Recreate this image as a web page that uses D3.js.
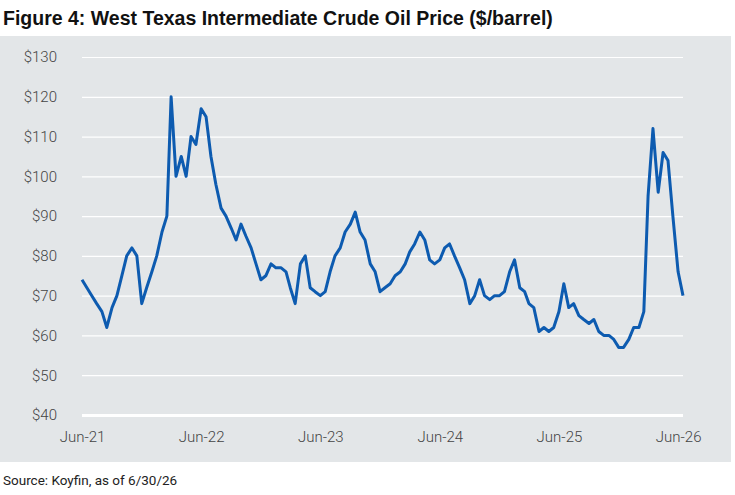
<!DOCTYPE html>
<html><head><meta charset="utf-8">
<script src="https://cdn.jsdelivr.net/npm/d3@7"></script>
<style>body{margin:0;background:#fff}</style>
</head><body><svg id="chart" width="735" height="495"></svg>
<script>
// semi-monthly closes, Jun-21 .. Jun-26
let v2021 = [74,72,70,68,66,62,67,70,75,80,82,80,68,72]
let v2022 = [76,80,86,90,120,100,105,100,110,108,117,115,105,98,92,90,87,84,88,85,82,78,74,75]
let v2023 = [78,77,77,76,72,68,78,80,72,71,70,71,76,80,82,86,88,91,86,84,78,76,71,72]
let v2024 = [73,75,76,78,81,83,86,84,79,78,79,82,83,80,77,74,68,70,74,70,69,70,70,71]
let v2025 = [76,79,72,71,68,67,61,62,61,62,66,73,67,68,65,64,63,64,61,60,60,59,57,57]
let v2026 = [59,62,62,66,95,112,96,106,104,90,76,70]
let yTicks = [40,50,60,70,80,90,100,110,120,130]
let xTickLabels = ["Jun-21","Jun-22","Jun-23","Jun-24","Jun-25","Jun-26"]

let values = [].concat(v2021, v2022, v2023, v2024, v2025, v2026)
let data = values.map((v, i) => ({
    date: new Date(2021, 5 + Math.floor(i / 2), i % 2 ? 16 : 1),
    price: v
}))

let svg = d3.select("#chart")
let font = "Roboto, 'Liberation Sans', Arial, sans-serif"

svg.append("text").attr("x", 3).attr("y", 25)
    .text("Figure 4: West Texas Intermediate Crude Oil Price ($/barrel)")
    .style("font-family", "'Liberation Sans', Arial, sans-serif")
    .style("font-weight", "bold").style("font-size", "19.5px").style("fill", "#111")

svg.append("rect").attr("x", 0).attr("y", 36).attr("width", 731).attr("height", 426)
    .attr("fill", "#e3e6e8")

let x = d3.scaleTime()
    .domain([new Date(2021, 5, 1), new Date(2026, 5, 16)])
    .range([82, 683])
let y = d3.scaleLinear().domain([40, 130]).range([415, 57])

let yAxis = svg.append("g").call(d3.axisLeft(y).tickValues(yTicks)
        .tickSize(-(683 - 82)).tickFormat(d => "$" + d).tickPadding(0))
    .attr("transform", "translate(82,0)")
yAxis.select(".domain").remove()
yAxis.selectAll("line").attr("stroke", "#fff").attr("stroke-width", d => d == 40 ? 3 : 1.2)
yAxis.selectAll("text").attr("x", -25).style("font-family", font).style("font-weight", 300)
    .style("font-size", "15px").style("fill", "#444")

let xTicks = xTickLabels.map((s, i) => new Date(2021 + i, 5, 1))
let xAxis = svg.append("g").call(d3.axisBottom(x).tickValues(xTicks)
        .tickSize(0).tickPadding(0).tickFormat((d, i) => xTickLabels[i]))
    .attr("transform", "translate(0,431)")
xAxis.select(".domain").remove()
xAxis.selectAll("text").attr("dy", "0.71em").style("font-family", font).style("font-weight", 300)
    .style("font-size", "15px").style("fill", "#444")

let line = d3.line().x(d => x(d.date)).y(d => y(d.price))
svg.append("path").datum(data).attr("d", line)
    .style("fill", "none").style("stroke", "#0d5bb0").style("stroke-width", "3px")
    .style("stroke-linejoin", "round")

svg.append("text").attr("x", 3).attr("y", 485).text("Source: Koyfin, as of 6/30/26")
    .style("font-family", font).style("font-size", "13.5px").style("fill", "#222")
</script></body></html>
